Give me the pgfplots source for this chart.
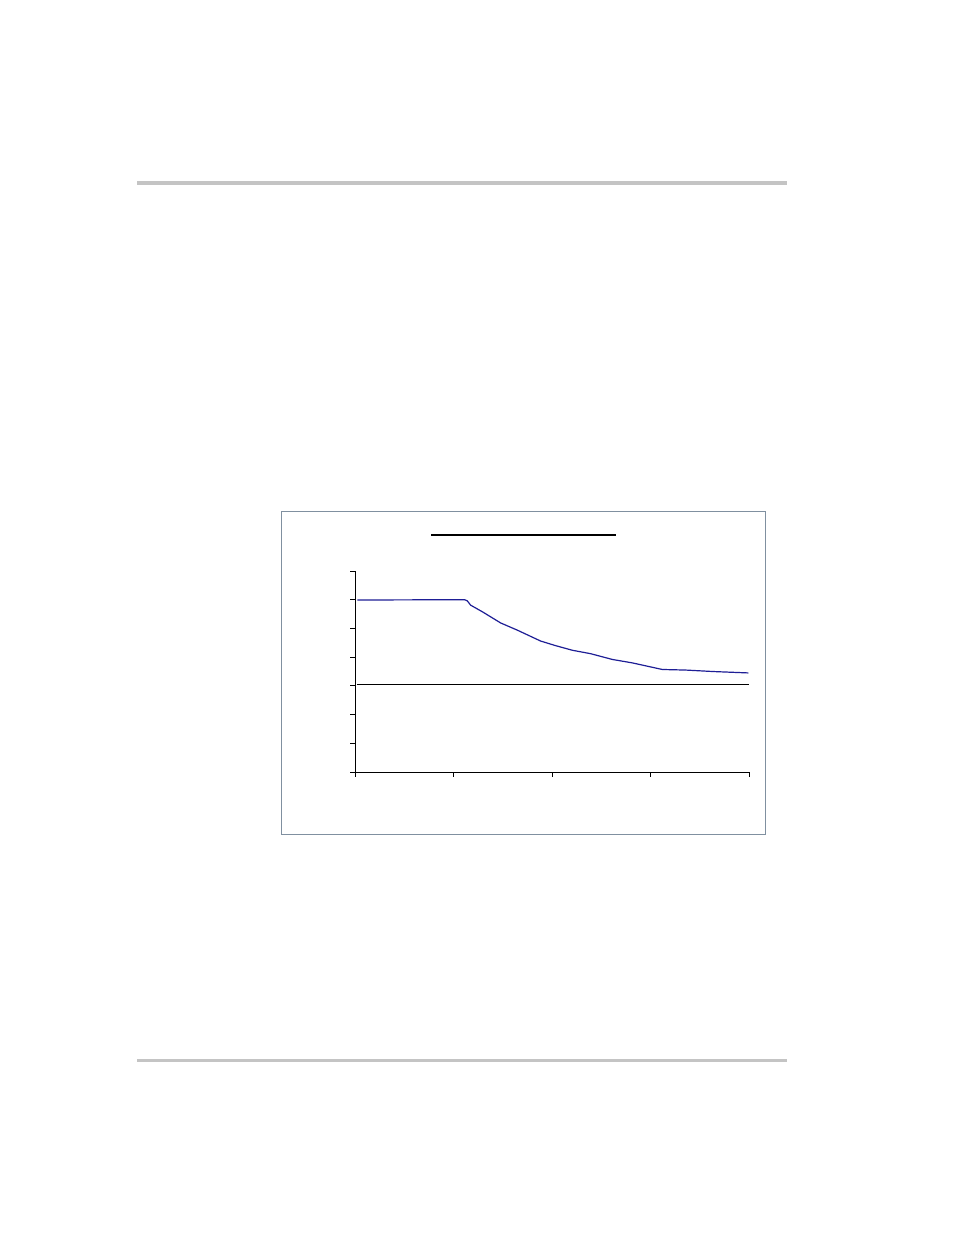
\documentclass[border=0pt]{standalone}
\usepackage{pgfplots}
\pgfplotsset{compat=1.18}

\definecolor{rulegray}{RGB}{196,196,196}
\definecolor{framegray}{RGB}{128,144,160}
\definecolor{curveblue}{RGB}{30,30,150}

\begin{document}
\begin{tikzpicture}[x=1pt,y=1pt]
  % page
  \fill[white] (0,0) rectangle (954,1235);
  % header and footer rules
  \fill[rulegray] (137,{1235-185}) rectangle (787,{1235-181});
  \fill[rulegray] (137,{1235-1062}) rectangle (787,{1235-1059});
  % chart frame
  \draw[framegray, line width=1pt] (281.5,{1235-835}) rectangle (765,{1235-511.5});
  % title underline (title text is blank)
  \draw[black, line width=2pt] (431,{1235-535.5}) -- (616,{1235-535.5});

  \begin{axis}[
      at={(355pt,463pt)}, anchor=south west,
      scale only axis,
      width=394pt, height=201pt,
      xmin=0, xmax=4, ymin=0, ymax=7,
      axis x line*=bottom, axis y line*=left,
      axis line style={black, line width=0.8pt},
      xtick={0,1,2,3,4}, ytick={0,1,2,3,4,5,6,7},
      xticklabels={}, yticklabels={},
      tick align=outside,
      major tick length=5pt,
      tick style={black, line width=0.8pt},
      clip=false,
    ]
    % limit line
    \addplot[black, line width=0.8pt] coordinates {(0.02,3.04) (4.0,3.04)};
    % curve
    \addplot[curveblue, line width=1.2pt] coordinates {
      (0.024,5.99) (1.113,6.00) (1.140,5.96) (1.174,5.81) (1.293,5.58)
      (1.479,5.19) (1.648,4.94) (1.885,4.56) (2.037,4.40) (2.206,4.24)
      (2.392,4.12) (2.612,3.92) (2.815,3.80) (3.120,3.57) (3.357,3.55)
      (3.628,3.50) (3.993,3.45)
    };
  \end{axis}
\end{tikzpicture}
\end{document}
